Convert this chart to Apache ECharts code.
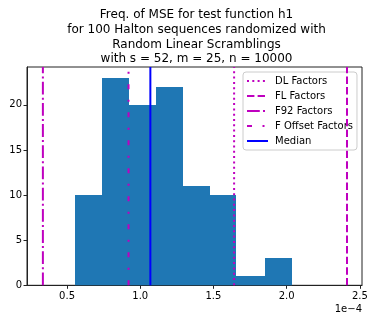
<!DOCTYPE html>
<html><head><meta charset="utf-8">
<script src="https://cdn.jsdelivr.net/npm/echarts@6/dist/echarts.min.js"></script>
<style>html,body{margin:0;padding:0;background:#fff}#c{width:375px;height:322px}</style>
</head><body><div id="c"></div>
<script>
// values in units of 1e-4
const binEdges = [0.554, 0.738, 0.920, 1.105, 1.289, 1.474, 1.656, 1.849, 2.034];
const counts = [10, 23, 20, 22, 11, 10, 1, 3];
const lineNames = ['DL Factors', 'FL Factors', 'F92 Factors', 'F Offset Factors', 'Median'];
const lineValues = [1.641, 2.412, 0.335, 0.920, 1.069];
const xTicks = [0.5, 1.0, 1.5, 2.0, 2.5];
const yTicks = [0, 5, 10, 15, 20];
const titleLines = ['Freq. of MSE for test function h1', 'for 100 Halton sequences randomized with', 'Random Linear Scramblings', 'with s = 52, m = 25, n = 10000'];

const xMin = 0.2265, xMax = 2.5145, yMax = 24.2;
const mag = '#bf00bf';
const lineStyles = [
  {color: mag, width: 2, type: [2, 3.3]},
  {color: mag, width: 2, type: [7.4, 3.2]},
  {color: mag, width: 2, type: [12.8, 3.2, 2, 3.2]},
  {color: mag, width: 2, type: [5, 10.5, 2, 10.5]},
  {color: '#0000ff', width: 2, type: 'solid'}
];

const histData = counts.map((c, i) => [binEdges[i], binEdges[i + 1], c]);
const font = 'DejaVu Sans';

const series = [{
  type: 'custom',
  name: 'hist',
  z: 1,
  renderItem: function (params, api) {
    const p0 = api.coord([api.value(0), 0]);
    const p1 = api.coord([api.value(1), api.value(2)]);
    const x0 = Math.round(p0[0]), x1 = Math.round(p1[0]);
    const yb = p0[1], yt = Math.round(p1[1]);
    return {type: 'rect', shape: {x: x0, y: yt, width: x1 - x0, height: yb - yt},
      style: {fill: '#1f77b4', stroke: null}};
  },
  encode: {x: [0, 1], y: 2},
  data: histData,
  silent: true
}];
lineNames.forEach((n, i) => {
  series.push({
    type: 'line', name: n, z: 5, symbol: 'none', silent: true,
    lineStyle: lineStyles[i], itemStyle: {color: lineStyles[i].color},
    data: [[lineValues[i], 0], [lineValues[i], yMax]]
  });
});

const chart = echarts.init(document.getElementById('c'), null, {renderer: 'canvas'});
chart.setOption({
  animation: false,
  backgroundColor: '#fff',
  title: {
    text: titleLines.join('\n'), left: 191.5, textAlign: 'center', top: 3,
    textStyle: {fontFamily: font, fontSize: 12, fontWeight: 'normal', color: '#000', lineHeight: 14.6}
  },
  grid: {left: 27, right: 13, top: 67, bottom: 36.7, show: true, borderColor: '#222', borderWidth: 1, backgroundColor: 'transparent'},
  xAxis: {
    type: 'value', min: xMin, max: xMax,
    axisLine: {show: true, onZero: false, lineStyle: {color: '#222'}},
    axisTick: {show: true, length: 3.5, customValues: xTicks, lineStyle: {color: '#222'}},
    axisLabel: {customValues: xTicks, fontFamily: font, fontSize: 10, color: '#000', margin: 6,
      formatter: v => v.toFixed(1)},
    splitLine: {show: false}
  },
  yAxis: {
    type: 'value', min: 0, max: yMax,
    axisLine: {show: true, lineStyle: {color: '#222'}},
    axisTick: {show: true, length: 3.5, customValues: yTicks, lineStyle: {color: '#222'}},
    axisLabel: {customValues: yTicks, fontFamily: font, fontSize: 10, color: '#000', margin: 5},
    splitLine: {show: false}
  },
  legend: {
    data: lineNames, orient: 'vertical', left: 243, top: 72,
    padding: [4, 4, 4, 3],
    backgroundColor: 'rgba(255,255,255,0.8)', borderColor: '#ccc', borderWidth: 1, borderRadius: 3,
    itemWidth: 21, itemHeight: 10, itemGap: 5,
    itemStyle: {opacity: 0},
    textStyle: {fontFamily: font, fontSize: 10, color: '#000', padding: [0, 0, 0, 2]},
    selectedMode: false
  },
  graphic: [{
    type: 'text', right: 13, top: 304,
    style: {text: '1e\u22124', fontFamily: font, fontSize: 10, fill: '#000'}
  }],
  series: series
});
</script></body></html>
